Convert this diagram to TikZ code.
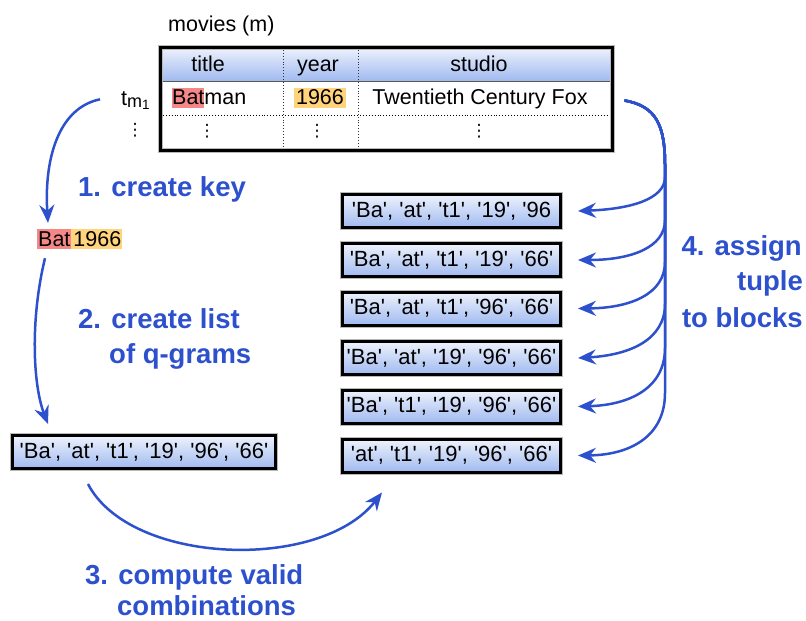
\documentclass[tikz,border=0pt]{standalone}
\usepackage{fontspec}
\setmainfont{Liberation Sans}[Ligatures=TeXOff]
\newfontfamily\mydejavu{DejaVu Sans}
\usetikzlibrary{arrows.meta,calc}
\definecolor{arrblue}{RGB}{45,80,205}
\definecolor{hlred}{RGB}{245,135,135}
\definecolor{hlorange}{RGB}{255,212,125}
\definecolor{boxtop}{RGB}{238,242,252}
\definecolor{boxbot}{RGB}{160,186,240}
\newcommand\myhlR[1]{{\setlength\fboxsep{0pt}\colorbox{hlred}{\rule[-3pt]{0pt}{20pt}#1}}}
\newcommand\myhlO[1]{{\setlength\fboxsep{0pt}\colorbox{hlorange}{\rule[-3pt]{0pt}{20pt}#1}}}
\newcommand\myvd{{\mydejavu\fontsize{17}{18}\selectfont ⋮}}
\begin{document}
\begin{tikzpicture}[x=1pt,y=-1pt,
  txt/.style={font=\fontsize{21.5}{25}\selectfont, inner sep=0pt},
  lbl/.style={font=\fontsize{27.5}{33}\selectfont\bfseries, text=arrblue, inner sep=0pt},
  tup/.style={draw=black, line width=3pt, top color=boxtop, bottom color=boxbot,
    minimum width=218pt, minimum height=33pt, inner sep=0pt,
    font=\fontsize{22}{26}\selectfont, preaction={draw=gray!55, line width=5pt}},
  frame/.style={draw=black, line width=3pt, minimum width=452pt, minimum height=103pt,
    inner sep=0pt, preaction={draw=gray!55, line width=5pt}},
  arr/.style={draw=arrblue, line width=2.5pt, -{Stealth[length=18pt,width=15pt,inset=6pt]}}
]
\useasboundingbox (0,0) rectangle (806,621);

% table
\fill[top color=boxtop, bottom color=boxbot] (160,47) rectangle (612,81);
\draw[line width=1pt, black!65] (160,81) -- (612,81);
\draw[dotted, line width=0.9pt] (160,115) -- (612,115);
\draw[dotted, line width=0.9pt, black!80] (283,47) -- (283,150);
\draw[dotted, line width=0.9pt, black!80] (358,47) -- (358,150);
\node[frame] (tbl) at (386,98.5) {};

\node[txt, anchor=base west] (mov) at (168,31.5) {movies (m)};
\node[txt, anchor=base] (htitle) at (208,71) {title};
\node[txt, anchor=base] (hyear) at (318,71) {year};
\node[txt, anchor=base] (hstudio) at (479,71) {studio};
\node[txt, anchor=base west] (bat) at (172,104.5) {\myhlR{Bat}man};
\node[txt, anchor=base] (yr) at (320,104.5) {\myhlO{\kern2pt 1966\kern2pt}};
\node[txt, anchor=base] (fox) at (480,104.5) {Twentieth Century Fox};
\node[txt] (d1) at (207,131) {\myvd};
\node[txt] (d2) at (317,131) {\myvd};
\node[txt] (d3) at (479,131) {\myvd};
\node[txt] (d0) at (135,130) {\myvd};
\node[txt, anchor=base west] (tm) at (121,105)
  {t\raisebox{-2.5pt}{\fontsize{18}{18}\selectfont m\raisebox{-2pt}{\fontsize{13.5}{14}\selectfont 1}}};

% key
\node[txt, anchor=base west] (key) at (37,246) {\myhlR{\kern1pt Bat\kern1pt}\myhlO{\kern2pt 1966\kern1pt}};

% q-gram list
\node[tup, minimum width=263pt] (qg) at (144,452) {'Ba', 'at', 't1', '19', '96', '66'};

% blocks
\node[tup] (b1) at (451.5,211) {'Ba', 'at', 't1', '19', '96};
\node[tup] (b2) at (451.5,260) {'Ba', 'at', 't1', '19', '66'};
\node[tup] (b3) at (451.5,308.5) {'Ba', 'at', 't1', '96', '66'};
\node[tup] (b4) at (451.5,358) {'Ba', 'at', '19', '96', '66'};
\node[tup] (b5) at (451.5,406.5) {'Ba', 't1', '19', '96', '66'};
\node[tup] (b6) at (451.5,455.5) {'at', 't1', '19', '96', '66'};

% labels
\node[lbl, anchor=base west] (l1) at (78,196) {1. create key};
\node[lbl, anchor=base west] (l2a) at (78,328) {2. create list};
\node[lbl, anchor=base west] (l2b) at (109,363) {of q-grams};
\node[lbl, anchor=base west] (l3a) at (85,584) {3. compute valid};
\node[lbl, anchor=base west] (l3b) at (117,615) {combinations};
\node[lbl, anchor=base east] (l4a) at (802,255) {4. assign};
\node[lbl, anchor=base east] (l4b) at (803,290) {tuple};
\node[lbl, anchor=base east] (l4c) at (803,327) {to blocks};

% arrows
\coordinate (s1) at ($(tm.west)+(-21,-1)$);
\coordinate (e1) at ($(key.north west)+(11,-6)$);
\draw[arr] (s1) .. controls (58,108) and (44,160) .. (e1);

\coordinate (s2) at ($(key.south west)+(8,9)$);
\coordinate (e2) at ($(qg.north west)+(37,-10)$);
\draw[arr] (s2) .. controls (30,320) and (33,385) .. (e2);

\coordinate (s3) at ($(qg.south west)+(77,14)$);
\coordinate (e3) at ($(b6.south west)+(41,19)$);
\draw[arr] (s3) .. controls (130,565) and (320,572) .. (e3);

\coordinate (s4) at ($(tbl.east)+(11,2)$);
\foreach \b/\y/\d in {b1/209/32, b2/260/40, b3/308/46, b4/355/51, b5/405/57, b6/455/62} {
  \draw[arr] (s4) .. controls (656,106) and (665,125) .. (665,165)
    -- (665,{\y-\d}) .. controls (665,{\y-0.3*\d}) and (630,\y) .. ($(\b.east)+(16,0)$ |- 0,\y);
}
\end{tikzpicture}
\end{document}
